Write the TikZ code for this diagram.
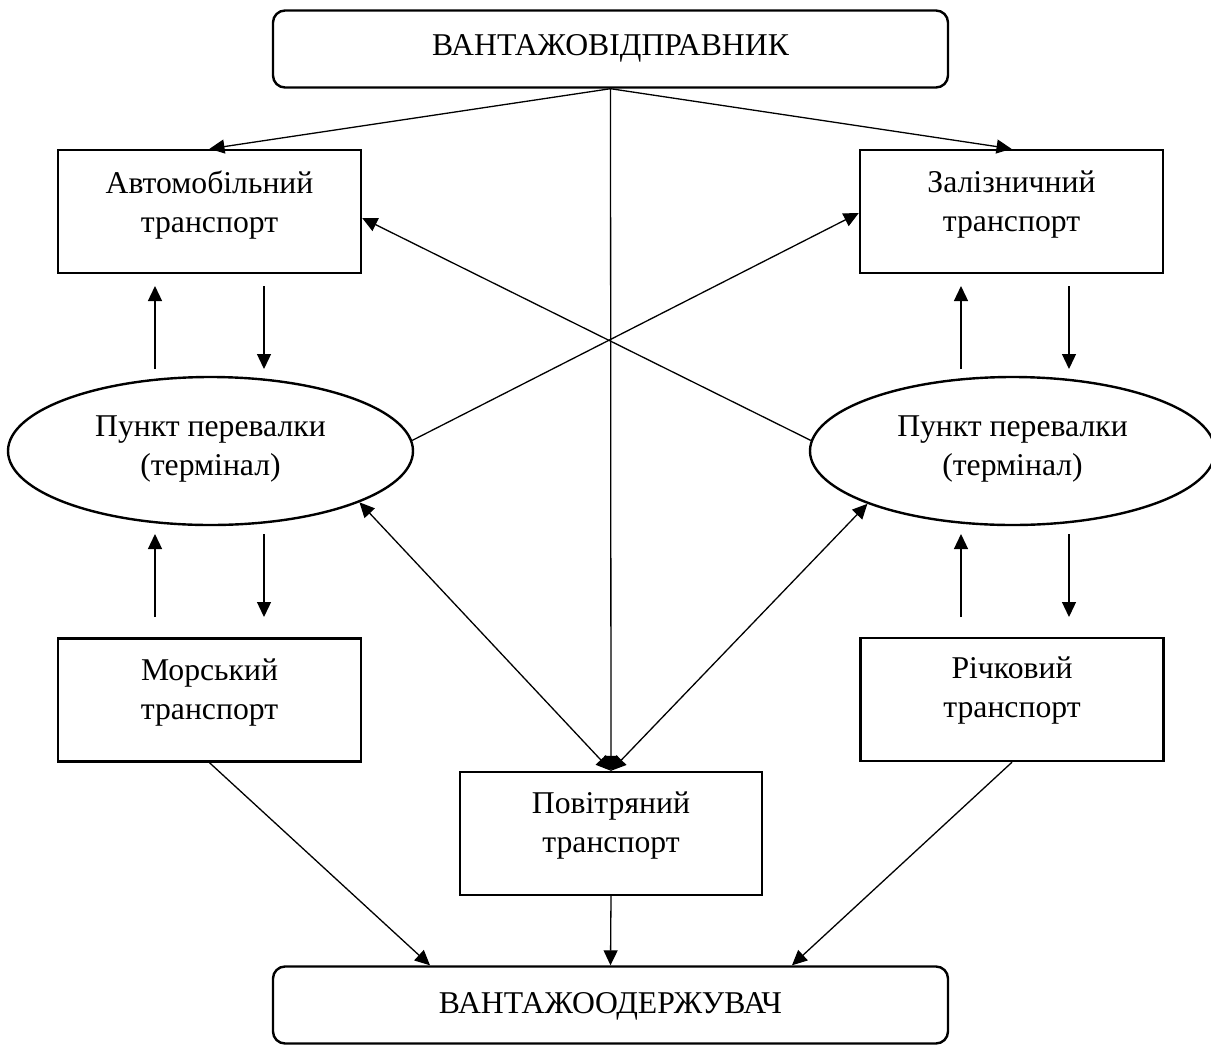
\documentclass[tikz,border=0pt]{standalone}
\usepackage{fontspec}
\setmainfont{Liberation Serif}
\usetikzlibrary{arrows.meta,shapes.geometric}
\begin{document}
\begin{tikzpicture}[x=1pt,y=-1pt,
  box/.style={draw,line width=2.4pt,minimum width=303pt,minimum height=123pt,inner sep=0pt},
  rbox/.style={draw,line width=2.4pt,rounded corners=12pt,minimum width=675pt,minimum height=77pt,inner sep=0pt},
  oval/.style={draw,ellipse,line width=2.4pt,minimum width=405pt,minimum height=148pt,inner sep=0pt},
  txt/.style={font=\fontsize{31.7}{39}\selectfont,align=center,inner sep=0pt,anchor=north},
  ln/.style={line width=1.3pt},
  arr/.style={ln,-{Triangle[width=14pt,length=15pt]}},
  darr/.style={ln,{Triangle[width=14pt,length=15pt]}-{Triangle[width=14pt,length=15pt]}}]
\useasboundingbox (0,0) rectangle (1211,1045);

% shapes
\node[rbox] (src) at (610.5,49) {};
\node[box] (auto) at (209.5,211.5) {};
\node[box] (zal) at (1011.5,211.5) {};
\node[oval] (le) at (210.5,451) {};
\node[oval] (re) at (1012.5,451) {};
\node[box] (mor) at (209.5,700) {};
\node[box] (rich) at (1012,699.5) {};
\node[box,minimum width=302pt] (pov) at (611,833.5) {};
\node[rbox] (dst) at (610.5,1005) {};

% texts
\node[txt,anchor=base] (srct) at (610.5,55) {ВАНТАЖОВІДПРАВНИК};
\node[txt] (autot) at (209.5,171) {Автомобільний\\транспорт};
\node[txt] (zalt) at (1011.5,171) {Залізничний\\транспорт};
\node[txt] (lett) at (210.5,416) {Пункт перевалки\\(термінал)};
\node[txt] (rett) at (1012.5,416) {Пункт перевалки\\(термінал)};
\node[txt] (mort) at (209.5,659) {Морський\\транспорт};
\node[txt] (richt) at (1012,657) {Річковий\\транспорт};
\node[txt] (povt) at (611,792) {Повітряний\\транспорт};
\node[txt,anchor=base] (dstt) at (610.5,1013) {ВАНТАЖООДЕРЖУВАЧ};

% free ends of short vertical arrows
\coordinate (lu1a) at (155,369); \coordinate (lu1b) at (155,286);
\coordinate (ld1a) at (264,286); \coordinate (ld1b) at (264,369);
\coordinate (lu2a) at (155,617); \coordinate (lu2b) at (155,534);
\coordinate (ld2a) at (264,534); \coordinate (ld2b) at (264,617);
\coordinate (ru1a) at (961,369); \coordinate (ru1b) at (961,286);
\coordinate (rd1a) at (1069,286); \coordinate (rd1b) at (1069,369);
\coordinate (ru2a) at (961,617); \coordinate (ru2b) at (961,534);
\coordinate (rd2a) at (1069,534); \coordinate (rd2b) at (1069,617);

% connectors
\draw[arr] (src.south) -- (auto.north);
\draw[arr] (src.south) -- (zal.north);
\draw[arr] (src.south) -- (pov.north);
\draw[arr] (le.3) -- ([yshift=-1.5pt]zal.west);
\draw[arr] (re.177) -- ([yshift=-6.5pt]auto.east);
\draw[darr] (le.-19) -- (pov.north);
\draw[darr] (re.-160) -- (pov.north);
\draw[arr] (lu1a) -- (lu1b);
\draw[arr] (ld1a) -- (ld1b);
\draw[arr] (lu2a) -- (lu2b);
\draw[arr] (ld2a) -- (ld2b);
\draw[arr] (ru1a) -- (ru1b);
\draw[arr] (rd1a) -- (rd1b);
\draw[arr] (ru2a) -- (ru2b);
\draw[arr] (rd2a) -- (rd2b);
\draw[arr] (mor.south) -- ([xshift=-180.5pt]dst.north);
\draw[arr] (rich.south) -- ([xshift=181.5pt]dst.north);
\draw[arr] (pov.south) -- (dst.north);
\end{tikzpicture}
\end{document}
